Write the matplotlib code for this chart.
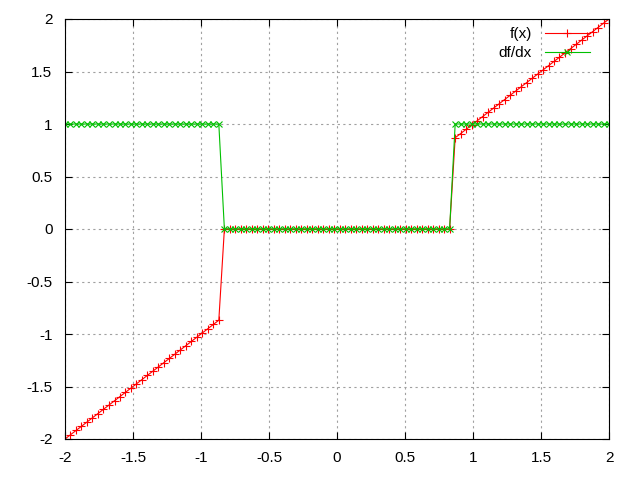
import matplotlib
matplotlib.use("Agg")
import matplotlib.pyplot as plt

plt.rcParams["font.family"] = ["Liberation Sans", "DejaVu Sans"]

# gnuplot samples (100 points from -2 to 2)
x = [-2.000, -1.960, -1.919, -1.879, -1.838, -1.798, -1.758, -1.717, -1.677, -1.636,
     -1.596, -1.556, -1.515, -1.475, -1.434, -1.394, -1.354, -1.313, -1.273, -1.232,
     -1.192, -1.152, -1.111, -1.071, -1.030, -0.990, -0.949, -0.909, -0.869, -0.828,
     -0.788, -0.747, -0.707, -0.667, -0.626, -0.586, -0.545, -0.505, -0.465, -0.424,
     -0.384, -0.343, -0.303, -0.263, -0.222, -0.182, -0.141, -0.101, -0.061, -0.020,
     0.020, 0.061, 0.101, 0.141, 0.182, 0.222, 0.263, 0.303, 0.343, 0.384,
     0.424, 0.465, 0.505, 0.545, 0.586, 0.626, 0.667, 0.707, 0.747, 0.788,
     0.828, 0.869, 0.909, 0.949, 0.990, 1.030, 1.071, 1.111, 1.152, 1.192,
     1.232, 1.273, 1.313, 1.354, 1.394, 1.434, 1.475, 1.515, 1.556, 1.596,
     1.636, 1.677, 1.717, 1.758, 1.798, 1.838, 1.879, 1.919, 1.960, 2.000]

f_left = [-2.000, -1.960, -1.919, -1.879, -1.838, -1.798, -1.758, -1.717, -1.677, -1.636,
          -1.596, -1.556, -1.515, -1.475, -1.434, -1.394, -1.354, -1.313, -1.273, -1.232,
          -1.192, -1.152, -1.111, -1.071, -1.030, -0.990, -0.949, -0.909, -0.869]
f_right = [0.869, 0.909, 0.949, 0.990, 1.030, 1.071, 1.111, 1.152, 1.192,
           1.232, 1.273, 1.313, 1.354, 1.394, 1.434, 1.475, 1.515, 1.556, 1.596,
           1.636, 1.677, 1.717, 1.758, 1.798, 1.838, 1.879, 1.919, 1.960, 2.000]
fx = f_left + [0.0] * 42 + f_right
dfdx = [1.0] * 29 + [0.0] * 42 + [1.0] * 29

ticks = [-2, -1.5, -1, -0.5, 0, 0.5, 1, 1.5, 2]
tick_labels = ["-2", "-1.5", "-1", "-0.5", "0", "0.5", "1", "1.5", "2"]

fig = plt.figure(figsize=(6.4, 4.8), dpi=100)
ax = fig.add_axes([65 / 640, 41 / 480, 544 / 640, 420 / 480])

ax.plot(x, fx, color="#ff0000", lw=0.8, marker="+", ms=5.5, mew=0.8, label="f(x)")
ax.plot(x, dfdx, color="#00c000", lw=0.8, marker="x", ms=4.5, mew=0.8, label="df/dx")

ax.set_xlim(-2, 2)
ax.set_ylim(-2, 2)
ax.set_xticks(ticks)
ax.set_xticklabels(tick_labels)
ax.set_yticks(ticks)
ax.set_yticklabels(tick_labels)
ax.tick_params(direction="in", length=5, width=0.8, top=True, right=True,
               labelsize=11)
ax.tick_params(axis="x", pad=9)
ax.tick_params(axis="y", pad=9)
ax.grid(True, color="#a0a0a0", linestyle=(0, (2, 3)), linewidth=0.8)
for s in ax.spines.values():
    s.set_linewidth(0.8)

# legend: text right aligned, line sample on the right (gnuplot key)
leg = ax.legend(loc="upper right", frameon=False, markerfirst=False, numpoints=1,
                handlelength=2.95, fontsize=11, borderpad=0, borderaxespad=0,
                labelspacing=0.34, handletextpad=0.85,
                bbox_to_anchor=(590 / 640, 1 - 27 / 480),
                bbox_transform=fig.transFigure)

fig.savefig("out.png", dpi=100)
